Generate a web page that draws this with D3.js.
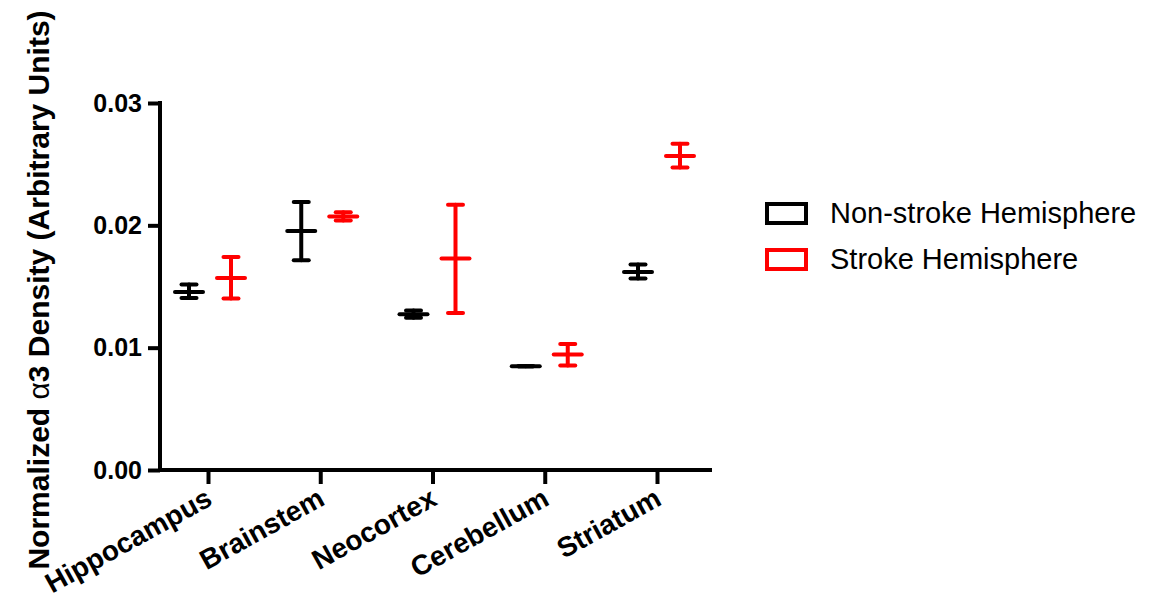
<!DOCTYPE html>
<html>
<head>
<meta charset="utf-8">
<script src="https://cdn.jsdelivr.net/npm/d3@7"></script>
<style>
  body { margin: 0; background: #fff; }
  text { font-family: "Liberation Sans", Arial, sans-serif; }
</style>
</head>
<body>
<div id="chart"></div>
<script>
'use strict';

// regions on the x axis
var regions = ['Hippocampus', 'Brainstem', 'Neocortex', 'Cerebellum', 'Striatum'];

// series: mean, lower and upper end of error bar
var seriesNames = ['Non-stroke Hemisphere', 'Stroke Hemisphere'];
var seriesColors = ['#000000', '#ff0000'];

var nonStrokeMean = [0.01456, 0.01954, 0.01273, 0.00849, 0.01619];
var nonStrokeLow  = [0.01407, 0.01714, 0.01245, 0.00849, 0.01565];
var nonStrokeHigh = [0.01516, 0.02190, 0.01303, 0.00849, 0.01679];

var strokeMean = [0.01570, 0.02073, 0.01728, 0.00944, 0.02566];
var strokeLow  = [0.01401, 0.02040, 0.01284, 0.00855, 0.02473];
var strokeHigh = [0.01741, 0.02106, 0.02169, 0.01029, 0.02667];

var yTicks = [0, 0.01, 0.02, 0.03];

var width = 1150,
    height = 600;

var svg = d3.select('#chart').append('svg')
    .attr('width', width)
    .attr('height', height);

var x = d3.scalePoint()
    .domain(regions)
    .range([208, 657]);

var y = d3.scaleLinear()
    .domain([0, 0.03])
    .range([470, 103]);

var series = [
    { mean: nonStrokeMean, low: nonStrokeLow, high: nonStrokeHigh, dx: -19 },
    { mean: strokeMean, low: strokeLow, high: strokeHigh, dx: 23 }
];

// y axis
var yAxis = svg.append('g')
    .attr('transform', 'translate(160,0)')
    .call(d3.axisLeft(y).tickValues(yTicks).tickSize(12).tickPadding(6)
        .tickFormat(d3.format('.2f')));
yAxis.select('.domain').attr('stroke-width', 4).attr('d', 'M0,' + (y(0) + 2) + 'V' + (y(0.03) - 2));
yAxis.selectAll('.tick line').attr('stroke-width', 4);
yAxis.selectAll('.tick text')
    .attr('font-size', 25)
    .attr('font-weight', 'bold')
    .attr('font-family', '"Liberation Sans", Arial, sans-serif')
    .attr('fill', '#000');

// x axis
var xAxis = svg.append('g')
    .attr('transform', 'translate(0,470)')
    .call(d3.axisBottom(x).tickSize(14).tickFormat(''));
xAxis.select('.domain').attr('stroke-width', 4).attr('d', 'M158,0H712');
xAxis.selectAll('.tick line').attr('stroke-width', 4);

svg.append('g').selectAll('text')
    .data(regions)
    .join('text')
    .attr('transform', function(d) { return 'translate(' + (x(d) + 6) + ',' + 504 + ') rotate(-29)'; })
    .attr('text-anchor', 'end')
    .attr('font-size', 28)
    .attr('font-weight', 'bold')
    .text(function(d) { return d; });

// y axis title
var yTitle = svg.append('text')
    .attr('transform', 'translate(49,290) rotate(-90)')
    .attr('text-anchor', 'middle')
    .attr('font-size', 30)
    .attr('font-weight', 'bold');
yTitle.append('tspan').text('Normalized ');
yTitle.append('tspan').attr('font-weight', 'normal').text('α');
yTitle.append('tspan').text('3 Density (Arbitrary Units)');

// error bars
var marks = svg.append('g')
    .attr('stroke-width', 4)
    .attr('stroke-linecap', 'round')
    .attr('fill', 'none');

series.forEach(function(s, i) {
    var g = marks.append('g').attr('stroke', seriesColors[i]);
    regions.forEach(function(r, j) {
        var cx = x(r) + s.dx;
        g.append('line')
            .attr('x1', cx).attr('x2', cx)
            .attr('y1', y(s.low[j])).attr('y2', y(s.high[j]));
        g.append('line')
            .attr('x1', cx - 7.5).attr('x2', cx + 7.5)
            .attr('y1', y(s.low[j])).attr('y2', y(s.low[j]));
        g.append('line')
            .attr('x1', cx - 7.5).attr('x2', cx + 7.5)
            .attr('y1', y(s.high[j])).attr('y2', y(s.high[j]));
        g.append('line')
            .attr('x1', cx - 14).attr('x2', cx + 14)
            .attr('y1', y(s.mean[j])).attr('y2', y(s.mean[j]));
    });
});

// legend
var legend = svg.append('g')
    .attr('transform', 'translate(767,204)');

var item = legend.selectAll('g')
    .data(seriesNames)
    .join('g')
    .attr('transform', function(d, i) { return 'translate(0,' + (i * 46) + ')'; });

item.append('rect')
    .attr('width', 39)
    .attr('height', 19)
    .attr('fill', 'none')
    .attr('stroke-width', 4)
    .attr('stroke', function(d, i) { return seriesColors[i]; });

item.append('text')
    .attr('x', 63)
    .attr('y', 19)
    .attr('font-size', 29)
    .text(function(d) { return d; });
</script>
</body>
</html>
